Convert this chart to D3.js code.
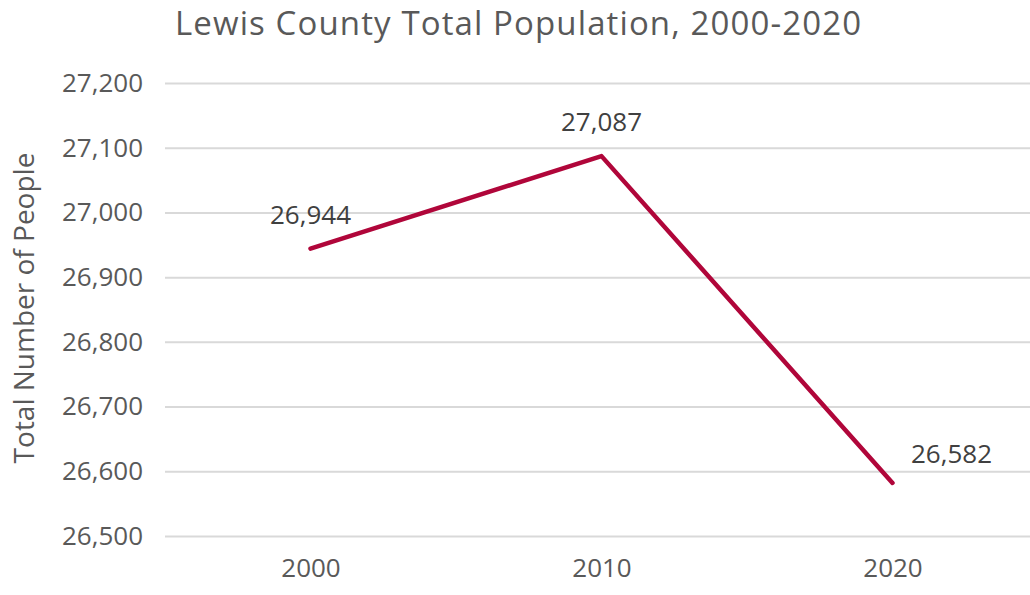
<!DOCTYPE html>
<html>
<head>
<meta charset="utf-8">
<script src="https://cdn.jsdelivr.net/npm/d3@7"></script>
<style>
  body { margin: 0; background: #fff; }
  svg text { font-family: "Open Sans", "Noto Sans", sans-serif; }
  .grid line { stroke: #d9d9d9; stroke-width: 2; }
  .grid path { display: none; }
  .y-axis text, .x-axis text { fill: #595959; font-size: 26px; }
  .y-axis path, .y-axis line, .x-axis path, .x-axis line { display: none; }
</style>
</head>
<body>
<svg width="1030" height="595"></svg>
<script>
// DATA
const years = ["2000", "2010", "2020"]
const population = [26944, 27087, 26582]
const yTicks = [26500, 26600, 26700, 26800, 26900, 27000, 27100, 27200]

// SETUP
const svg = d3.select("svg")

const scaleX = d3.scalePoint()
  .domain(years)
  .range([165, 1038])
  .padding(0.5)

const scaleY = d3.scaleLinear()
  .domain([26500, 27200])
  .range([536, 83])

svg.append("text")
  .attr("x", 518)
  .attr("y", 35)
  .attr("text-anchor", "middle")
  .attr("fill", "#595959")
  .style("font-size", "33px")
  .attr("textLength", 686)
  .text("Lewis County Total Population, 2000-2020")

// gridlines
svg.append("g")
  .attr("class", "grid")
  .attr("transform", "translate(165, 0)")
  .call(d3.axisLeft(scaleY).tickValues(yTicks).tickSize(-870).tickFormat(""))

svg.append("g")
  .attr("class", "y-axis")
  .attr("transform", "translate(143, 0)")
  .call(d3.axisLeft(scaleY).tickValues(yTicks).tickSize(0).tickPadding(0).tickFormat(d3.format(",")))

svg.append("g")
  .attr("class", "x-axis")
  .attr("transform", "translate(0, 548)")
  .call(d3.axisBottom(scaleX).tickSize(0).tickPadding(0))
  .selectAll("text")
  .attr("dy", "1.1em")

svg.append("text")
  .attr("transform", "translate(34, 308) rotate(-90)")
  .attr("text-anchor", "middle")
  .attr("fill", "#595959")
  .style("font-size", "28px")
  .text("Total Number of People")

const points = years.map((y, i) => ({ year: y, value: population[i] }))

const line = d3.line()
  .x(d => scaleX(d.year))
  .y(d => scaleY(d.value))

svg.append("path")
  .datum(points)
  .attr("d", line)
  .attr("fill", "none")
  .attr("stroke", "#b0063a")
  .attr("stroke-width", 4.5)
  .attr("stroke-linecap", "round")
  .attr("stroke-linejoin", "round")

// data labels, the last one sits to the right
const labelDx = [0, 0, 59]
const labelDy = [-25, -25, -20]

svg.selectAll("text.label")
  .data(points)
  .enter()
  .append("text")
  .attr("class", "label")
  .attr("x", (d, i) => scaleX(d.year) + labelDx[i])
  .attr("y", (d, i) => scaleY(d.value) + labelDy[i])
  .attr("text-anchor", "middle")
  .attr("fill", "#404040")
  .style("font-size", "26px")
  .text(d => d3.format(",")(d.value))
</script>
</body>
</html>
